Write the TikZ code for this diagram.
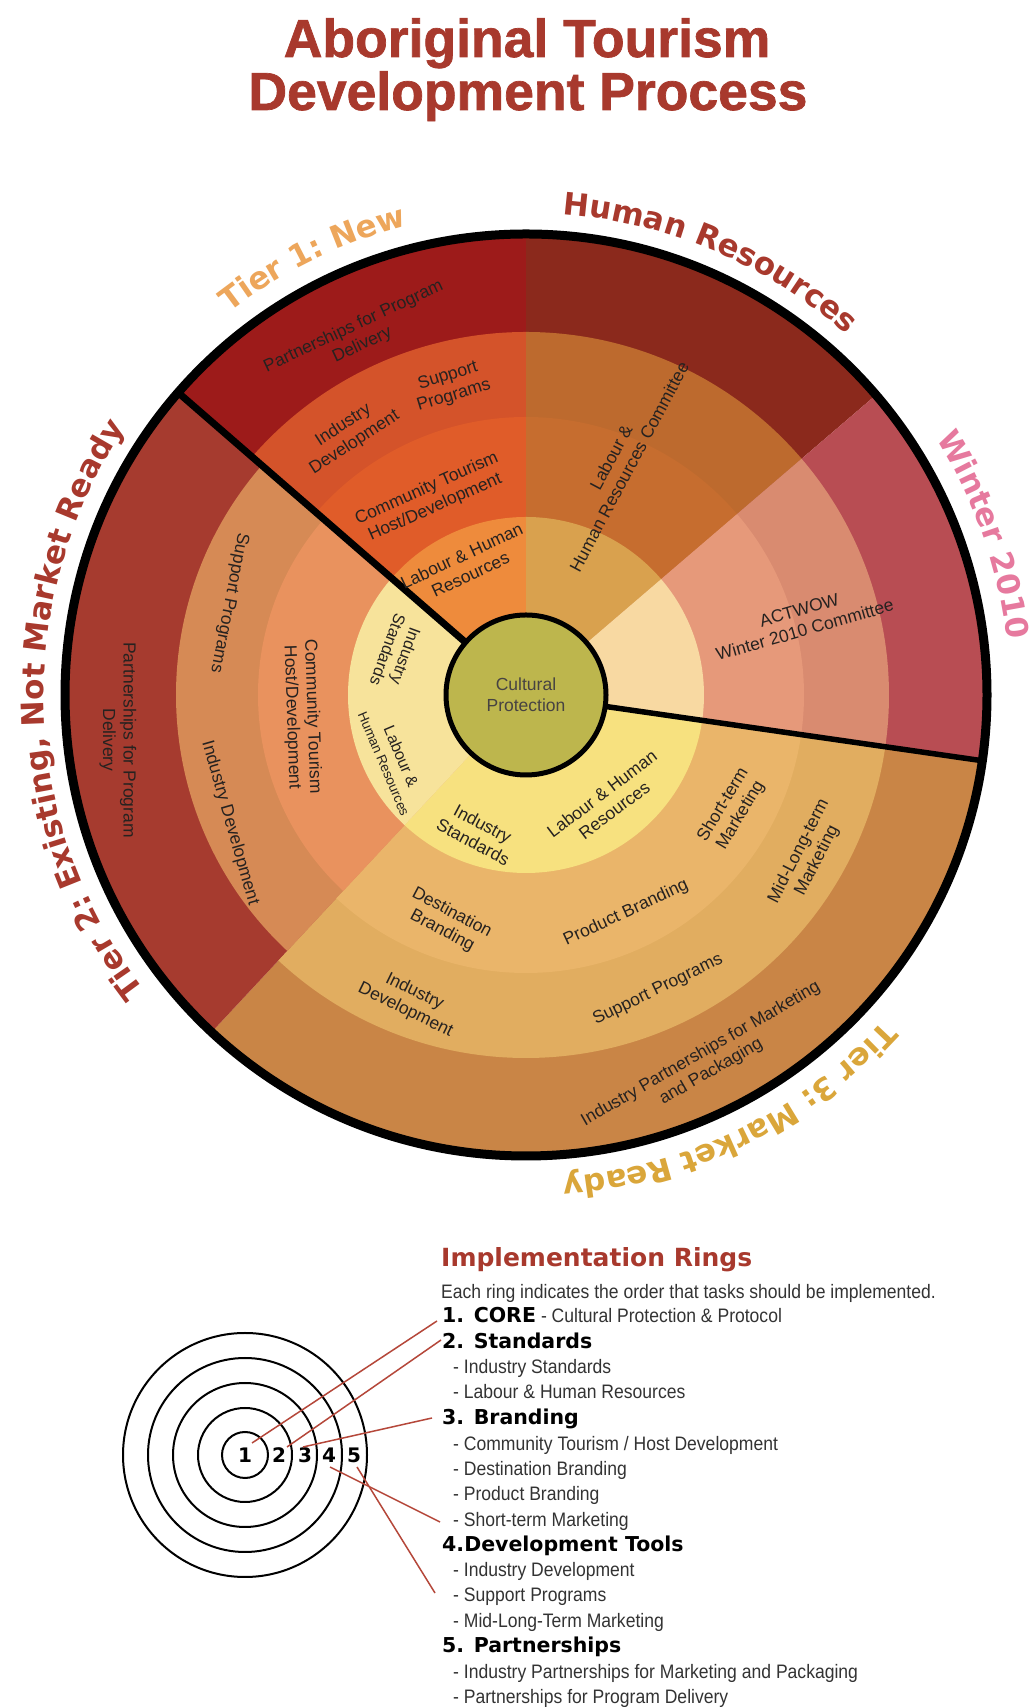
\documentclass[tikz,border=0pt]{standalone}
\usepackage{fontspec}
\setmainfont{Liberation Sans}
\newfontfamily\heavyfont{DejaVu Sans}
\newfontfamily\narrowfont[FakeStretch=0.9]{Liberation Sans}
\newfontfamily\titlefam[UprightFont={* Bold}, FakeBold=1.3]{Liberation Sans}
\usetikzlibrary{decorations.text}

\definecolor{titlered}{HTML}{A8392D}
\definecolor{tierone}{HTML}{EDA65B}
\definecolor{winterpink}{HTML}{E6799E}
\definecolor{tierthree}{HTML}{DAA63A}
\definecolor{labtext}{HTML}{262220}
\definecolor{legtext}{HTML}{333333}
\definecolor{leadred}{HTML}{B5473A}
% Tier 1
\definecolor{ta5}{HTML}{9D1B1A}\definecolor{ta4}{HTML}{D4532A}\definecolor{ta3}{HTML}{E05C29}\definecolor{ta2}{HTML}{EE8B3C}
% Human resources
\definecolor{hr5}{HTML}{8B291C}\definecolor{hr4}{HTML}{BD6A2E}\definecolor{hr3}{HTML}{C66D2F}\definecolor{hr2}{HTML}{D9A14E}
% Winter
\definecolor{wi5}{HTML}{B84D53}\definecolor{wi4}{HTML}{D98B70}\definecolor{wi3}{HTML}{E6997A}\definecolor{wi2}{HTML}{F8D9A2}
% Tier 3
\definecolor{tc5}{HTML}{C98546}\definecolor{tc4}{HTML}{E1AD60}\definecolor{tc3}{HTML}{EAB56A}\definecolor{tc2}{HTML}{F7E17F}
% Tier 2
\definecolor{tb5}{HTML}{A63B2F}\definecolor{tb4}{HTML}{D68A55}\definecolor{tb3}{HTML}{E9925E}\definecolor{tb2}{HTML}{F7E39B}
\definecolor{corecol}{HTML}{BDB64D}

\newcommand\pieslice[4]{\fill[#4] (0,0) -- (#1:#3) arc[start angle=#1,end angle=#2,radius=#3] -- cycle;}
\newcommand\arcfont{\heavyfont\bfseries\fontsize{31}{31}\selectfont}
\newcommand\arclabel[5]{%
  \pgfmathsetmacro\arcsa{#1+#2}\pgfmathsetmacro\arcea{#1-#2}%
  \path[decorate,decoration={text along path,text align=center,
      text={|\arcfont\color{#4}|#5}}]
    (\arcsa:#3) arc[start angle=\arcsa,end angle=\arcea,radius=#3];}

\begin{document}
\begin{tikzpicture}[x=1pt,y=1pt,
  lab/.style={font=\fontsize{17.5}{20.5}\selectfont, text=labtext, align=center, inner sep=0pt},
  legtxt/.style={font=\narrowfont\fontsize{19.5}{22}\selectfont, text=legtext, anchor=base west, inner sep=0pt},
  leghead/.style={font=\heavyfont\bfseries\fontsize{20.5}{22}\selectfont, text=black, anchor=base west, inner sep=0pt},
  lead/.style={draw=leadred, line width=1.5pt},
  numlab/.style={font=\heavyfont\bfseries\fontsize{20}{20}\selectfont, inner sep=0pt},
  ringline/.style={draw=black, line width=2pt},
  titlefont/.style={font=\titlefam\fontsize{53.5}{60}\selectfont, text=titlered, anchor=base, inner sep=0pt}]
\useasboundingbox (0,0) rectangle (1034,1707);
\fill[white] (0,0) rectangle (1034,1707);

% Title
\node[titlefont] (title1) at (527,1650) {Aboriginal Tourism};
\node[titlefont] (title2) at (528,1597) {Development Process};

% Wheel
\begin{scope}[shift={(526,1012)}]
  % ring 5
  \pieslice{90}{139}{461pt}{ta5}
  \pieslice{40.6}{90}{461pt}{hr5}
  \pieslice{-8.2}{40.6}{461pt}{wi5}
  \pieslice{-133}{-8.2}{461pt}{tc5}
  \pieslice{139}{227}{461pt}{tb5}
  % ring 4
  \pieslice{90}{139}{363pt}{ta4}
  \pieslice{40.6}{90}{363pt}{hr4}
  \pieslice{-8.2}{40.6}{363pt}{wi4}
  \pieslice{-133}{-8.2}{363pt}{tc4}
  \pieslice{139}{227}{350pt}{tb4}
  % ring 3
  \pieslice{90}{139}{278pt}{ta3}
  \pieslice{40.6}{90}{278pt}{hr3}
  \pieslice{-8.2}{40.6}{278pt}{wi3}
  \pieslice{-133}{-8.2}{278pt}{tc3}
  \pieslice{139}{227}{268pt}{tb3}
  % ring 2
  \pieslice{90}{139}{178pt}{ta2}
  \pieslice{40.6}{90}{178pt}{hr2}
  \pieslice{-8.2}{40.6}{178pt}{wi2}
  \pieslice{-133}{-8.2}{178pt}{tc2}
  \pieslice{139}{227}{178pt}{tb2}
  % dividers
  \draw[line width=7pt] (139:70pt) -- (139:461pt);
  \draw[line width=5.5pt] (-8.2:70pt) -- (-8.2:461pt);
  % outer rim
  \draw[line width=9pt] (0,0) circle[radius=461pt];
  % core
  \node[circle, draw=black, line width=5pt, fill=corecol, minimum size=160pt,
        lab, text=labtext!85] (core) at (0,0) {Cultural\\Protection};
  % outer labels
  \arclabel{116}{70}{484pt}{tierone}{Tier 1: New}
  \arclabel{67}{70}{482pt}{titlered}{Human Resources}
  \arclabel{19.3}{70}{484pt}{winterpink}{Winter 2010}
  \arclabel{182}{70}{482pt}{titlered}{Tier 2: Existing, Not Market Ready}
  \arclabel{-64}{70}{484pt}{tierthree}{Tier 3: Market Ready}
\end{scope}

% Tier 1 labels
\node[lab, rotate=25] (p1) at (358,1371) {Partnerships for Program\\Delivery};
\node[lab, rotate=33] (id1) at (349,1273) {Industry\\Development};
\node[lab, rotate=17] (sp1) at (451,1321) {Support\\Programs};
\node[lab, rotate=24] (ct1) at (431,1209) {Community Tourism\\Host/Development};
\node[lab, rotate=25] (lh1) at (466,1142) {Labour \& Human\\Resources};
% Human resources
\node[lab, rotate=62] (lhc) at (620,1245) {Labour \&\\Human Resources Committee};
% Winter
\node[lab, rotate=16] (act) at (802,1087) {ACTWOW\\Winter 2010 Committee};
% Tier 2 labels
\node[lab, rotate=-90] (p2) at (118,967) {Partnerships for Program\\Delivery};
\node[lab, rotate=-101] (sp2) at (229,1104) {Support Programs};
\node[lab, rotate=-74] (id2) at (230,884) {Industry Development};
\node[lab, rotate=-88] (ct2) at (302,990) {Community Tourism\\Host/Development};
\node[lab, rotate=-110, font=\fontsize{16.5}{19}\selectfont] (is2) at (397,1054) {Industry\\Standards};
\node[lab, rotate=-67, font=\fontsize{16}{18}\selectfont] (lh2) at (393,947) {Labour \&\\\fontsize{13.5}{15}\selectfont Human Resources};
% Tier 3 labels
\node[lab, rotate=-28] (is3) at (478,874) {Industry\\Standards};
\node[lab, rotate=37] (lh3) at (608,905) {Labour \& Human\\Resources};
\node[lab, rotate=59] (st3) at (732,897) {Short-term\\Marketing};
\node[lab, rotate=63] (ml3) at (808,851) {Mid-Long-term\\Marketing};
\node[lab, rotate=-28] (db3) at (447,785) {Destination\\Branding};
\node[lab, rotate=25] (pb3) at (626,794) {Product Branding};
\node[lab, rotate=-26] (id3) at (410,706) {Industry\\Development};
\node[lab, rotate=26] (sp3) at (658,717) {Support Programs};
\node[lab, rotate=30] (ip3) at (706,644) {Industry Partnerships for Marketing\\and Packaging};

% Legend: target
\coordinate (tc) at (245,252);
\foreach \r in {23,47,72,97,122} \draw[ringline] (tc) circle[radius=\r pt];
\node[numlab] (n1) at (245,252) {1};
\node[numlab] (n2) at (279,252) {2};
\node[numlab] (n3) at (305,252) {3};
\node[numlab] (n4) at (329,252) {4};
\node[numlab] (n5) at (354,252) {5};

% Legend text
\node[font=\heavyfont\bfseries\fontsize{25}{25}\selectfont, text=titlered, anchor=base west, inner sep=0pt] (lgt) at (441,440) {Implementation Rings};
\node[legtxt] (lgs) at (441,408) {Each ring indicates the order that tasks should be implemented.};
\node[leghead] (h1) at (442,384) {1. CORE\hspace{5pt}{\narrowfont\mdseries\fontsize{19.5}{22}\selectfont\color{legtext}- Cultural Protection \& Protocol}};
\node[leghead] (h2) at (442,358) {2. Standards};
\node[legtxt] (i21) at (453,333) {- Industry Standards};
\node[legtxt] (i22) at (453,308) {- Labour \& Human Resources};
\node[leghead] (h3) at (442,282) {3. Branding};
\node[legtxt] (i31) at (453,256) {- Community Tourism / Host Development};
\node[legtxt] (i32) at (453,231) {- Destination Branding};
\node[legtxt] (i33) at (453,206) {- Product Branding};
\node[legtxt] (i34) at (453,180) {- Short-term Marketing};
\node[leghead] (h4) at (442,155) {4.Development Tools};
\node[legtxt] (i41) at (453,130) {- Industry Development};
\node[legtxt] (i42) at (453,105) {- Support Programs};
\node[legtxt] (i43) at (453,79) {- Mid-Long-Term Marketing};
\node[leghead] (h5) at (442,54) {5. Partnerships};
\node[legtxt] (i51) at (453,28) {- Industry Partnerships for Marketing and Packaging};
\node[legtxt] (i52) at (453,4) {- Partnerships for Program Delivery};

% Leader lines
\coordinate (s1) at (252,264); \coordinate (e1) at (437,386);
\coordinate (s2) at (287,260); \coordinate (e2) at (441,367);
\coordinate (s3) at (303,260); \coordinate (e3) at (432,289);
\coordinate (s4) at (330,240); \coordinate (e4) at (440,185);
\coordinate (s5) at (357,240); \coordinate (e5) at (435,114);
\draw[lead] (s1) -- (e1);
\draw[lead] (s2) -- (e2);
\draw[lead] (s3) -- (e3);
\draw[lead] (s4) -- (e4);
\draw[lead] (s5) -- (e5);
\end{tikzpicture}
\end{document}
